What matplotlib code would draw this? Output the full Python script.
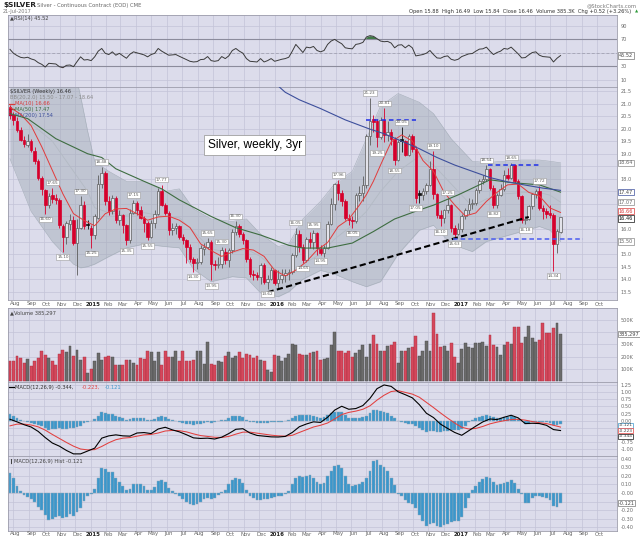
import numpy as np
import pandas as pd
import matplotlib
matplotlib.use('Agg')
import matplotlib.pyplot as plt
import matplotlib.transforms as mtransforms
from matplotlib.patches import Rectangle
from matplotlib.lines import Line2D

plt.rcParams['font.family'] = ['DejaVu Sans']

# weekly bars: first = week ending 25-Jul-2014, last = 21-Jul-2017
first_week = '2014-07-25'

opens = [20.85, 20.55, 20.30, 19.95, 19.55, 19.35, 19.50, 19.10, 18.70, 18.05,
         17.55, 16.95, 17.35, 17.25, 17.15, 16.10, 15.70, 16.20, 16.35, 15.45,
         16.05, 16.95, 16.20, 16.05, 15.75, 16.45, 17.80, 18.25, 17.10, 16.70,
         17.25, 16.35, 16.55, 16.15, 15.55, 16.65, 17.05, 16.75, 16.45, 16.25,
         15.70, 16.25, 16.60, 17.50, 16.95, 16.65, 15.95, 16.05, 16.10, 15.70,
         15.55, 15.30, 14.80, 14.65, 14.70, 15.20, 15.30, 15.50, 14.60, 14.55,
         14.60, 15.10, 14.75, 15.15, 15.90, 16.10, 15.80, 15.55, 14.80, 14.20,
         14.15, 14.10, 14.55, 13.90, 14.00, 14.35, 13.85, 14.00, 14.15, 14.25,
         14.30, 14.95, 15.80, 15.30, 14.75, 15.60, 15.50, 15.85, 15.20, 15.05,
         15.25, 16.20, 17.00, 17.80, 17.45, 17.10, 16.45, 16.35, 16.30, 17.35,
         17.45, 17.75, 19.70, 20.40, 20.30, 19.65, 20.35, 19.75, 19.85, 19.60,
         18.75, 19.60, 19.50, 18.95, 19.70, 19.20, 17.45, 17.35, 17.50, 17.75,
         18.40, 17.40, 16.55, 16.45, 16.75, 16.95, 16.05, 15.80, 16.00, 16.50,
         16.75, 17.00, 17.05, 17.55, 17.90, 18.00, 18.40, 17.65, 16.95, 17.35,
         17.60, 18.15, 18.05, 18.55, 17.90, 17.30, 16.35, 16.40, 16.90, 17.40,
         17.50, 16.85, 16.70, 16.65, 16.55, 15.40, 15.88]
highs = [20.95, 20.65, 20.45, 20.05, 19.70, 19.80, 19.60, 19.25, 18.80, 18.10,
         17.60, 17.45, 17.65, 17.40, 17.25, 16.20, 16.30, 16.60, 16.50, 16.40,
         17.30, 17.10, 16.35, 16.15, 16.60, 18.15, 18.48, 18.30, 17.30, 17.35,
         17.30, 16.75, 16.60, 16.20, 16.80, 17.15, 17.10, 16.90, 16.50, 16.30,
         16.35, 16.75, 17.65, 17.77, 17.05, 16.70, 16.25, 16.25, 16.15, 15.80,
         15.60, 15.40, 14.90, 14.85, 15.35, 15.45, 15.65, 15.55, 14.75, 14.90,
         15.30, 15.25, 15.25, 16.00, 16.30, 16.20, 15.90, 15.60, 14.90, 14.35,
         14.30, 14.65, 14.65, 14.15, 14.50, 14.40, 14.35, 14.40, 14.40, 14.40,
         15.05, 16.05, 15.95, 15.40, 15.70, 15.90, 15.95, 15.90, 15.35, 15.35,
         16.30, 17.25, 17.85, 17.96, 17.55, 17.20, 16.60, 16.50, 17.45, 17.70,
         18.10, 19.80, 21.23, 20.55, 20.40, 20.45, 20.81, 20.30, 20.00, 19.65,
         19.55, 20.05, 19.55, 19.80, 19.80, 19.30, 17.55, 17.65, 17.85, 18.70,
         19.10, 17.45, 16.75, 16.80, 17.25, 17.00, 16.15, 16.25, 16.60, 16.85,
         17.25, 17.20, 17.65, 18.00, 18.15, 18.54, 18.45, 17.75, 17.45, 17.80,
         18.35, 18.45, 18.65, 18.60, 18.00, 17.35, 16.50, 16.95, 17.45, 17.60,
         17.72, 16.95, 16.85, 16.95, 16.65, 16.00, 16.49]
lows = [20.40, 20.15, 19.85, 19.50, 19.25, 19.25, 19.05, 18.60, 17.95, 17.35,
        16.60, 16.85, 17.05, 17.00, 16.05, 15.10, 15.40, 15.95, 15.35, 14.15,
        16.00, 16.00, 16.00, 15.25, 15.60, 16.40, 17.65, 16.95, 16.55, 16.60,
        16.25, 16.15, 15.85, 15.35, 15.45, 16.60, 16.55, 16.40, 15.90, 15.55,
        15.65, 16.05, 16.55, 16.90, 16.55, 15.75, 15.75, 15.80, 15.60, 15.40,
        14.65, 14.70, 14.30, 14.40, 14.60, 14.95, 15.20, 13.95, 14.35, 14.45,
        14.45, 14.60, 14.50, 15.05, 15.75, 15.70, 15.40, 14.70, 14.10, 13.95,
        13.95, 13.80, 13.80, 13.62, 13.95, 13.75, 13.65, 13.85, 13.90, 13.95,
        14.20, 14.90, 15.10, 14.65, 14.70, 15.25, 15.20, 14.95, 14.95, 14.90,
        15.20, 16.15, 16.75, 17.15, 16.90, 16.35, 16.15, 16.05, 16.25, 17.10,
        17.10, 17.65, 19.35, 19.85, 19.25, 19.60, 19.45, 19.50, 19.35, 18.55,
        18.70, 19.05, 18.90, 18.90, 19.05, 17.05, 17.05, 17.15, 17.40, 17.70,
        17.20, 16.45, 16.10, 16.25, 16.65, 15.90, 15.63, 15.75, 15.90, 16.40,
        16.60, 16.80, 16.95, 17.45, 17.80, 17.90, 17.55, 16.82, 16.85, 17.30,
        17.50, 17.95, 18.00, 17.85, 17.20, 16.25, 16.18, 16.35, 16.80, 17.25,
        16.75, 16.40, 16.45, 16.45, 14.34, 15.05, 15.84]
closes = [20.55, 20.35, 19.95, 19.55, 19.40, 19.50, 19.15, 18.70, 18.05, 17.60,
          16.95, 17.30, 17.20, 17.15, 16.15, 15.70, 16.25, 16.35, 15.45, 16.05,
          16.95, 16.10, 16.15, 15.75, 16.50, 17.80, 18.25, 17.10, 16.70, 17.25,
          16.35, 16.55, 16.15, 15.55, 16.65, 17.05, 16.75, 16.45, 16.25, 15.70,
          16.25, 16.60, 17.50, 16.95, 16.65, 15.95, 16.05, 16.10, 15.70, 15.55,
          15.30, 14.80, 14.65, 14.70, 15.25, 15.30, 15.50, 14.60, 14.55, 14.60,
          15.15, 14.75, 15.15, 15.90, 16.10, 15.80, 15.55, 14.80, 14.20, 14.15,
          14.10, 14.55, 13.90, 14.00, 14.35, 13.85, 14.00, 14.15, 14.25, 14.30,
          14.95, 15.80, 15.30, 14.75, 15.60, 15.50, 15.85, 15.25, 15.05, 15.25,
          16.20, 17.00, 17.80, 17.45, 17.10, 16.45, 16.35, 16.30, 17.35, 17.45,
          17.75, 19.70, 20.30, 20.25, 19.65, 20.35, 19.75, 19.85, 19.60, 18.75,
          19.45, 19.50, 18.95, 19.70, 19.20, 17.25, 17.35, 17.50, 17.75, 18.40,
          17.40, 16.55, 16.45, 16.75, 16.95, 16.05, 15.80, 16.00, 16.50, 16.75,
          17.00, 17.05, 17.55, 17.90, 18.00, 18.40, 17.65, 16.95, 17.35, 17.60,
          18.15, 18.05, 18.55, 17.90, 17.30, 16.35, 16.40, 16.90, 17.40, 17.50,
          16.85, 16.70, 16.60, 16.55, 15.40, 15.94, 16.46]
volume_k = [162, 162, 203, 189, 149, 184, 122, 167, 189, 243,
            211, 189, 167, 135, 221, 257, 235, 284, 203, 257,
            176, 197, 68, 100, 162, 230, 170, 197, 203, 197,
            135, 135, 130, 176, 170, 149, 130, 189, 184, 243,
            235, 162, 238, 130, 243, 194, 194, 243, 162, 243,
            162, 162, 176, 248, 243, 140, 319, 140, 130, 162,
            154, 203, 238, 189, 203, 235, 189, 221, 216, 189,
            203, 176, 162, 89, 76, 216, 203, 162, 189, 221,
            302, 297, 221, 216, 216, 230, 235, 243, 176, 181,
            189, 297, 397, 248, 248, 230, 243, 194, 230, 257,
            292, 197, 302, 378, 305, 243, 248, 284, 292, 316,
            149, 243, 243, 270, 275, 365, 203, 248, 329, 243,
            559, 383, 281, 287, 246, 308, 200, 146, 260, 308,
            281, 273, 308, 308, 322, 287, 376, 295, 281, 214,
            295, 322, 303, 444, 444, 308, 363, 452, 355, 317,
            336, 471, 390, 390, 431, 471, 385.3]
rsi14 = [54.7, 48.8, 45.5, 42.9, 42.0, 43.0, 40.5, 38.9, 35.0, 32.5,
         28.5, 34.0, 33.5, 33.0, 29.0, 27.5, 31.0, 31.5, 29.0, 36.5,
         43.6, 38.9, 39.5, 38.0, 43.6, 52.0, 56.0, 48.8, 47.0, 51.0,
         46.0, 48.8, 45.0, 41.5, 47.5, 51.0, 49.5, 48.0, 46.5, 43.6,
         47.0, 48.8, 56.0, 52.0, 49.0, 46.0, 46.5, 47.0, 44.4, 42.0,
         39.5, 37.0, 36.0, 36.5, 39.5, 40.0, 44.0, 38.0, 37.0, 38.0,
         44.0, 41.0, 45.0, 53.0, 56.0, 52.0, 49.0, 41.0, 37.0, 36.5,
         36.0, 41.0, 36.0, 38.0, 41.0, 37.0, 38.5, 40.0, 41.0, 43.0,
         52.0, 62.0, 56.0, 50.0, 58.0, 57.0, 59.0, 53.0, 51.0, 53.0,
         62.0, 67.0, 69.5, 66.0, 63.0, 57.0, 56.0, 55.5, 62.0, 63.0,
         65.0, 73.0, 75.0, 74.0, 70.5, 67.0, 66.0, 66.5, 64.0, 57.0,
         61.0, 61.5, 57.0, 61.0, 57.0, 45.0, 46.0, 47.0, 49.0, 53.0,
         47.0, 42.0, 41.5, 44.0, 45.0, 40.0, 38.5, 40.0, 44.0, 46.0,
         48.0, 48.5, 52.0, 55.0, 55.5, 58.0, 52.0, 47.0, 50.0, 52.0,
         56.0, 55.0, 58.0, 53.0, 48.0, 42.0, 42.5, 46.5, 50.0, 51.0,
         46.0, 44.0, 43.5, 43.0, 36.0, 41.5, 45.52]
macd_hist = [.23, .17, .08, .02, -.02, -.05, -.07, -.11, -.16, -.20,
             -.26, -.31, -.30, -.28, -.27, -.29, -.28, -.25, -.27, -.22,
             -.17, -.09, -.04, -.01, .05, .17, .29, .28, .24, .24,
             .17, .13, .08, .03, .05, .10, .11, .10, .08, .03,
             .03, .07, .14, .15, .13, .06, .02, -.01, -.04, -.07,
             -.10, -.13, -.14, -.13, -.10, -.07, -.06, -.07, -.06, -.02,
             .01, .04, .10, .15, .17, .16, .12, .03, -.03, -.06,
             -.08, -.08, -.07, -.07, -.06, -.05, -.04, -.03, -.01, .02,
             .10, .18, .20, .19, .20, .21, .18, .13, .10, .12,
             .20, .26, .31, .32, .29, .20, .11, .08, .09, .11,
             .13, .18, .26, .37, .38, .33, .30, .26, .18, .09,
             -.01, -.04, -.08, -.12, -.13, -.18, -.26, -.33, -.38, -.36,
             -.35, -.38, -.39, -.37, -.36, -.34, -.33, -.32, -.28, -.18,
             -.06, .04, .08, .13, .16, .19, .17, .13, .09, .10,
             .12, .13, .15, .12, .05, -.01, -.12, -.12, -.06, -.04,
             -.03, -.05, -.06, -.08, -.15, -.16, -.121]
# MACD and signal read every second week
macd_wk = list(range(0, 157, 2))
macd_line = [0.05, -0.04, -0.14, -0.22, -0.375, -0.59, -0.78, -0.89, -1.04, -1.16,
             -1.16, -1.06, -0.96, -0.61, -0.53, -0.495, -0.53, -0.54, -0.43, -0.415,
             -0.45, -0.29, -0.23, -0.32, -0.39, -0.49, -0.60, -0.62, -0.61, -0.64,
             -0.575, -0.45, -0.30, -0.28, -0.43, -0.515, -0.54, -0.565, -0.57, -0.55,
             -0.41, -0.21, -0.115, -0.04, -0.06, 0.12, 0.37, 0.505, 0.40, 0.425,
             0.53, 0.78, 1.12, 1.25, 1.20, 1.01, 0.91, 0.80, 0.56, 0.26,
             0.11, -0.12, -0.27, -0.41, -0.51, -0.35, -0.19, -0.04, 0.06, 0.04,
             0.12, 0.19, 0.10, -0.10, -0.09, -0.10, -0.16, -0.31, -0.344]
macd_signal = [-0.18, -0.12, -0.12, -0.15, -0.215, -0.33, -0.48, -0.62, -0.76, -0.89,
               -0.99, -1.02, -1.01, -0.90, -0.77, -0.665, -0.61, -0.59, -0.54, -0.495,
               -0.48, -0.43, -0.36, -0.34, -0.35, -0.39, -0.46, -0.52, -0.55, -0.58,
               -0.585, -0.55, -0.47, -0.40, -0.40, -0.435, -0.47, -0.505, -0.53, -0.54,
               -0.51, -0.41, -0.315, -0.22, -0.16, -0.08, 0.06, 0.215, 0.29, 0.335,
               0.40, 0.52, 0.72, 0.89, 1.02, 1.05, 0.99, 0.93, 0.82, 0.64,
               0.46, 0.27, 0.09, -0.08, -0.23, -0.29, -0.27, -0.20, -0.11, -0.05,
               0.0, 0.04, 0.05, 0.02, -0.03, -0.07, -0.10, -0.16, -0.223]

ma10_wk = [0, 3, 6, 9, 12, 15, 18, 21, 24, 27, 30, 33, 36, 39, 42, 45, 48, 51, 54, 57,
           60, 63, 66, 69, 72, 75, 78, 81, 84, 87, 90, 93, 96, 99, 101, 103, 105,
           108, 111, 114, 117, 120, 123, 126, 129, 132, 135, 138, 141, 144, 147, 150, 153, 156]
ma10 = [20.85, 20.58, 20.12, 19.28, 18.34, 17.40, 16.61, 16.34, 16.13, 16.61,
        16.80, 16.82, 16.61, 16.35, 16.48, 16.51, 16.35, 16.06, 15.41, 15.14,
        14.91, 15.08, 15.22, 15.16, 14.91, 14.35, 14.13, 14.36, 14.70, 15.16,
        15.46, 16.10, 16.39, 16.95, 17.37, 17.91, 18.55,
        19.47, 19.75, 19.51, 18.73, 18.30, 17.46, 16.96, 16.52, 16.64, 17.10,
        17.46, 17.76, 17.79, 17.46, 17.32, 16.84, 16.66]
ma50_wk = [0, 5, 13, 22, 26, 30, 38, 43, 48, 57, 64, 71, 79, 83, 90, 97, 103, 109,
           116, 120, 127, 136, 142, 150, 156]
ma50 = [20.60, 20.40, 19.60, 19.00, 18.85, 18.40, 17.90, 17.60, 17.16, 16.50, 16.05,
        15.76, 15.35, 15.24, 15.24, 15.44, 15.90, 16.40, 16.76, 16.95, 17.36, 17.96,
        17.85, 17.76, 17.47]
ma200_wk = [70, 74, 78, 82, 88, 95, 102, 106, 111, 116, 121, 126, 131, 136, 141, 146, 151, 156]
ma200 = [22.60, 21.95, 21.45, 21.15, 20.80, 20.35, 19.98, 19.80, 19.50, 19.20, 18.85,
         18.55, 18.30, 18.05, 17.88, 17.75, 17.63, 17.54]
bb_wk = [0, 6, 12, 18, 20, 22, 24, 28, 33, 38, 44, 48, 52, 57, 63, 67, 71, 76, 79, 83,
         88, 92, 97, 101, 105, 110, 116, 120, 125, 131, 135, 140, 145, 150, 153, 156]
bb_up = [23.0, 23.7, 23.4, 22.5, 21.3, 19.9, 18.7, 18.3, 17.9, 17.9, 17.5, 17.6, 16.8,
         16.4, 16.3, 16.4, 15.8, 15.3, 15.4, 16.4, 17.1, 17.8, 18.3, 19.6, 20.9, 21.4,
         21.05, 20.6, 19.6, 18.7, 18.65, 18.7, 18.75, 18.75, 18.7, 18.64]
bb_mid = [20.9, 20.2, 19.5, 18.3, 17.9, 17.5, 16.85, 16.65, 16.55, 16.65, 16.5, 16.45,
          15.9, 15.2, 15.05, 15.2, 14.9, 14.3, 14.2, 14.6, 15.0, 15.6, 16.15, 16.7, 17.5,
          18.3, 18.9, 18.55, 17.8, 16.9, 17.2, 17.4, 17.45, 17.45, 17.35, 17.07]
bb_low = [18.8, 16.7, 15.5, 14.6, 14.45, 14.5, 14.6, 14.9, 15.25, 15.4, 15.3, 15.25,
          14.4, 13.9, 14.1, 14.05, 13.45, 13.3, 13.5, 14.0, 14.35, 14.2, 13.9, 13.7,
          13.9, 15.0, 15.95, 16.15, 15.4, 15.1, 15.5, 15.7, 15.9, 16.1, 15.95, 15.50]

# weeks carrying a high / low price tag
high_tags = [12, 20, 26, 35, 43, 56, 60, 64, 81, 86, 93, 102, 106, 111, 120, 124, 135, 142, 150]
low_tags = [10, 15, 23, 33, 39, 52, 57, 73, 83, 88, 97, 104, 109, 115, 122, 126, 137, 146, 154]

# hand drawn lines
trend_wk, trend_val = [73, 147], [13.48, 16.48]
res16_wk, res16_val = [101, 115], 20.33
res17_wk, res17_val = [135.5, 150.5], 18.54
sup_wk, sup_val = [125.5, 162.5], 15.60

# ---------------------------------------------------------------
W, H = 640, 538
BG = '#dcdceb'
GRID = '#c3c3d7'
RED = '#d6002b'
UPC = '#5c5c5c'
TICKC = '#6a6a6a'
L, R = 7.5, 617
XMIN, XMAX = -0.7, 172.0

fig = plt.figure(figsize=(W / 100, H / 100), dpi=100)
fig.patch.set_facecolor('white')

t0 = pd.Timestamp(first_week)
months = pd.date_range('2014-08-01', '2017-10-01', freq='MS')
mpos = [(m - t0).days / 7 for m in months]

wk = np.arange(len(closes))
prev = [opens[0]] + closes[:-1]


def panel(top, bot, ylim, ticks, fmt, hidden=()):
    ax = fig.add_axes([L / W, 1 - bot / H, (R - L) / W, (bot - top) / H])
    ax.set_facecolor(BG)
    ax.set_xlim(XMIN, XMAX)
    ax.set_ylim(*ylim)
    ax.set_xticks(mpos)
    ax.set_yticks(ticks)
    # labels that sit under the value boxes are left out, as on the original
    ax.set_yticklabels(['' if any(abs(v - h) < 1e-6 for h in hidden) else fmt(v)
                        for v in ticks])
    ax.grid(True, color=GRID, lw=0.5)
    ax.set_axisbelow(True)
    ax.tick_params(axis='x', length=0, labelbottom=False)
    ax.tick_params(axis='y', length=0, left=False, labelleft=False,
                   right=False, labelright=True, labelsize=3.6,
                   labelcolor=TICKC, pad=2.5)
    for s in ax.spines.values():
        s.set_color('#9c9cab')
        s.set_linewidth(0.6)
    return ax


def vbox(ax, y, txt, ec, tc='#444444', fs=3.6):
    tr = mtransforms.blended_transform_factory(ax.transAxes, ax.transData)
    ax.text(1.003, y, txt, transform=tr, ha='left', va='center', fontsize=fs,
            color=tc, clip_on=False, zorder=20,
            bbox=dict(boxstyle='square,pad=0.12', fc='white', ec=ec, lw=0.5))


def date_row(ax, y):
    tr = mtransforms.blended_transform_factory(ax.transData, ax.transAxes)
    for p, m in zip(mpos, months):
        yr = m.month == 1
        ax.text(p + 0.6, y, str(m.year) if yr else m.strftime('%b'), transform=tr,
                ha='center', va='center', fontsize=3.9, clip_on=False,
                color='#222222' if yr else '#666666',
                fontweight='bold' if yr else 'normal')


def legend_line(ax, y, txt, color, mark=None):
    if mark:
        ax.add_line(Line2D([0.003, 0.011], [y, y], transform=ax.transAxes,
                           color=mark, lw=0.9, clip_on=False))
    ax.text(0.0125 if mark else 0.004, y, txt, transform=ax.transAxes,
            ha='left', va='center', fontsize=3.7, color=color)


# ---------------- RSI ----------------
ax_rsi = panel(15, 87, (-1.1, 105.6), [10, 30, 50, 70, 90], lambda v: '%d' % v, hidden=[50])
rsi = np.array(rsi14)
ax_rsi.axhline(70, color='#8c8c9c', lw=0.8)
ax_rsi.axhline(30, color='#8c8c9c', lw=0.8)
ax_rsi.axhline(50, color='#a8a8b8', lw=0.7, ls=(0, (3, 2)))
ax_rsi.fill_between(wk, rsi, 30, where=rsi < 30, interpolate=True, color='#c8374a', lw=0)
ax_rsi.fill_between(wk, rsi, 70, where=rsi > 70, interpolate=True, color='#3f7a45', lw=0)
ax_rsi.plot(wk, rsi, color='#3a3a3a', lw=0.7)
legend_line(ax_rsi, 0.955, '\u25b2RSI(14) 45.52', '#444444')
vbox(ax_rsi, rsi14[-1], '45.52', '#777777')

# ---------------- price ----------------
ax = panel(87, 300, (13.17, 21.66), np.arange(13.5, 21.51, 0.5), lambda v: '%.1f' % v,
           hidden=[15.5, 16.5, 17.0, 17.5, 18.5])
ax.fill_between(bb_wk, bb_low, bb_up, color='#9ba6b1', alpha=0.42, lw=0, zorder=1)
ax.plot(bb_wk, bb_up, color='#a5aeb9', lw=0.4, zorder=1)
ax.plot(bb_wk, bb_low, color='#a5aeb9', lw=0.4, zorder=1)
ax.plot(bb_wk, bb_mid, color='#b3bac4', lw=0.6, zorder=1)

for i in wk:
    o, h, l, c = opens[i], highs[i], lows[i], closes[i]
    down = c < prev[i]
    if c >= o:
        col = RED if down else UPC
        face = '#e3e3ea'
    else:
        col = RED if down else '#111111'
        face = col
    ax.vlines(i, l, h, color=col, lw=0.6, zorder=3)
    ax.add_patch(Rectangle((i - 0.36, min(o, c)), 0.72, max(abs(c - o), 0.03),
                           fc=face, ec=col, lw=0.5, zorder=4))

ax.plot(ma10_wk, ma10, color='#e23b3b', lw=0.7, zorder=5)
ax.plot(ma50_wk, ma50, color='#3e6d41', lw=0.8, zorder=5)
ax.plot(ma200_wk, ma200, color='#3d4f9c', lw=0.8, zorder=5)

ax.plot(trend_wk, trend_val, color='black', lw=1.5, ls=(0, (3, 1.6)), zorder=6)
ax.plot(res16_wk, [res16_val] * 2, color='#1f2ee8', lw=1.1, ls=(0, (3, 2)), zorder=6)
ax.plot(res17_wk, [res17_val] * 2, color='#1f2ee8', lw=1.1, ls=(0, (3, 2)), zorder=6)
ax.plot(sup_wk, [sup_val] * 2, color='#4a5cf0', lw=1.1, ls=(0, (3, 2)), zorder=6)

tag_box = dict(boxstyle='square,pad=0.18', fc='white', ec='#9a9a9a', lw=0.4)
for i in high_tags:
    ax.text(i, highs[i] + 0.12, '%.2f' % highs[i], ha='center', va='bottom',
            fontsize=3.0, color='#555555', bbox=tag_box, zorder=7)
for i in low_tags:
    ax.text(i, lows[i] - 0.14, '%.2f' % lows[i], ha='center', va='top',
            fontsize=3.0, color='#555555', bbox=tag_box, zorder=7)

ax.text(56.0, 19.35, 'Silver, weekly, 3yr', family='Liberation Sans', fontsize=8.6,
        color='black', ha='left', va='center', zorder=8,
        bbox=dict(boxstyle='square,pad=0.3', fc='white', ec='#a0a0a0', lw=0.6))

legend_line(ax, 1 - 5 / 213, '\\$SILVER (Weekly) 16.46', '#333333')
legend_line(ax, 1 - 10.5 / 213, 'BB(20,2.0) 15.50 - 17.07 - 18.64', '#8a8a8a')
legend_line(ax, 1 - 16.5 / 213, 'MA(10) 16.66', '#d83a3a', mark='#d83a3a')
legend_line(ax, 1 - 22 / 213, 'MA(50) 17.47', '#3e6d41', mark='#3e6d41')
legend_line(ax, 1 - 28 / 213, 'MA(200) 17.54', '#3d4f9c', mark='#3d4f9c')

vbox(ax, 18.64, '18.64', '#8a8a8a', '#666666')
vbox(ax, 17.47, '17.47', '#3d4f9c')
vbox(ax, 17.07, '17.07', '#8a8a8a', '#666666')
vbox(ax, 16.71, '16.66', '#d83a3a', '#d83a3a')
vbox(ax, 16.42, '16.46', '#111111', '#111111')
vbox(ax, 15.50, '15.50', '#8a8a8a', '#666666')
date_row(ax, -(304 - 300) / 213)

# ---------------- volume ----------------
ax_v = panel(308, 382, (-6, 596), [100, 200, 300, 400, 500], lambda v: '%dK' % v,
             hidden=[400])
vcol = ['#d5475c' if closes[i] < prev[i] else '#6b6b6b' for i in wk]
vedge = ['#a8303f' if closes[i] < prev[i] else '#4a4a4a' for i in wk]
ax_v.bar(wk, volume_k, width=0.82, color=vcol, edgecolor=vedge, lw=0.3, zorder=3)
legend_line(ax_v, 0.93, '\u25b2Volume 385,297', '#444444')
vbox(ax_v, volume_k[-1], '385,297', '#777777')

# ---------------- MACD ----------------
ax_m = panel(382, 456, (-1.234, 1.353),
             [-1.0, -0.75, -0.5, -0.25, 0.0, 0.25, 0.5, 0.75, 1.0, 1.25],
             lambda v: '%.2f' % v, hidden=[-0.25, -0.5])
ax_m.bar(wk, macd_hist, width=0.8, color='#3b97cc', edgecolor='#8ea6b8', lw=0.3, zorder=3)
ax_m.plot(macd_wk, macd_signal, color='#e2403f', lw=0.75, zorder=4)
ax_m.plot(macd_wk, macd_line, color='black', lw=0.8, zorder=5)
ax_m.add_line(Line2D([0.003, 0.011], [0.93, 0.93], transform=ax_m.transAxes,
                     color='black', lw=0.9))
ax_m.text(0.0125, 0.93, 'MACD(12,26,9) -0.344,', transform=ax_m.transAxes,
          ha='left', va='center', fontsize=3.7, color='#333333')
ax_m.text(0.122, 0.93, '-0.223,', transform=ax_m.transAxes,
          ha='left', va='center', fontsize=3.7, color='#e2403f')
ax_m.text(0.16, 0.93, '-0.121', transform=ax_m.transAxes,
          ha='left', va='center', fontsize=3.7, color='#3b97cc')
vbox(ax_m, -0.16, '-0.121', '#3b97cc', fs=3.2)
vbox(ax_m, -0.355, '-0.223', '#e2403f', fs=3.2)
vbox(ax_m, -0.55, '-0.344', '#111111', fs=3.2)

# ---------------- MACD histogram ----------------
ax_h = panel(456, 531, (-0.442, 0.430), np.round(np.arange(-0.4, 0.41, 0.1), 2),
             lambda v: '%.2f' % v, hidden=[-0.1])
ax_h.bar(wk, macd_hist, width=0.8, color='#3b97cc', edgecolor='#8ea6b8', lw=0.3, zorder=3)
legend_line(ax_h, 0.93, '\u258eMACD(12,26,9) Hist -0.121', '#444444')
vbox(ax_h, -0.121, '-0.121', '#777777')
date_row(ax_h, -(534 - 531) / 75)

# ---------------- header ----------------
fig.text(3 / W, 1 - 5.5 / H, '\\$SILVER', fontsize=5.3, fontweight='bold',
         color='#222222', va='center')
fig.text(37 / W, 1 - 5.5 / H, 'Silver - Continuous Contract (EOD) CME', fontsize=3.8,
         color='#666666', va='center')
fig.text(3 / W, 1 - 11.5 / H, '21-Jul-2017', fontsize=3.6, color='#777777', va='center')
fig.text(637 / W, 1 - 5.5 / H, '@StockCharts.com', fontsize=3.8, color='#777777',
         va='center', ha='right')
fig.text(631 / W, 1 - 11.8 / H,
         'Open 15.88  High 16.49  Low 15.84  Close 16.46  Volume 385.3K  Chg +0.52 (+3.26%)',
         fontsize=3.7, color='#333333', va='center', ha='right')
fig.text(638 / W, 1 - 11.8 / H, '\u25b2', fontsize=3.0, color='#2e9a3a',
         va='center', ha='right')

fig.savefig('out.png', dpi=100, facecolor='white')
